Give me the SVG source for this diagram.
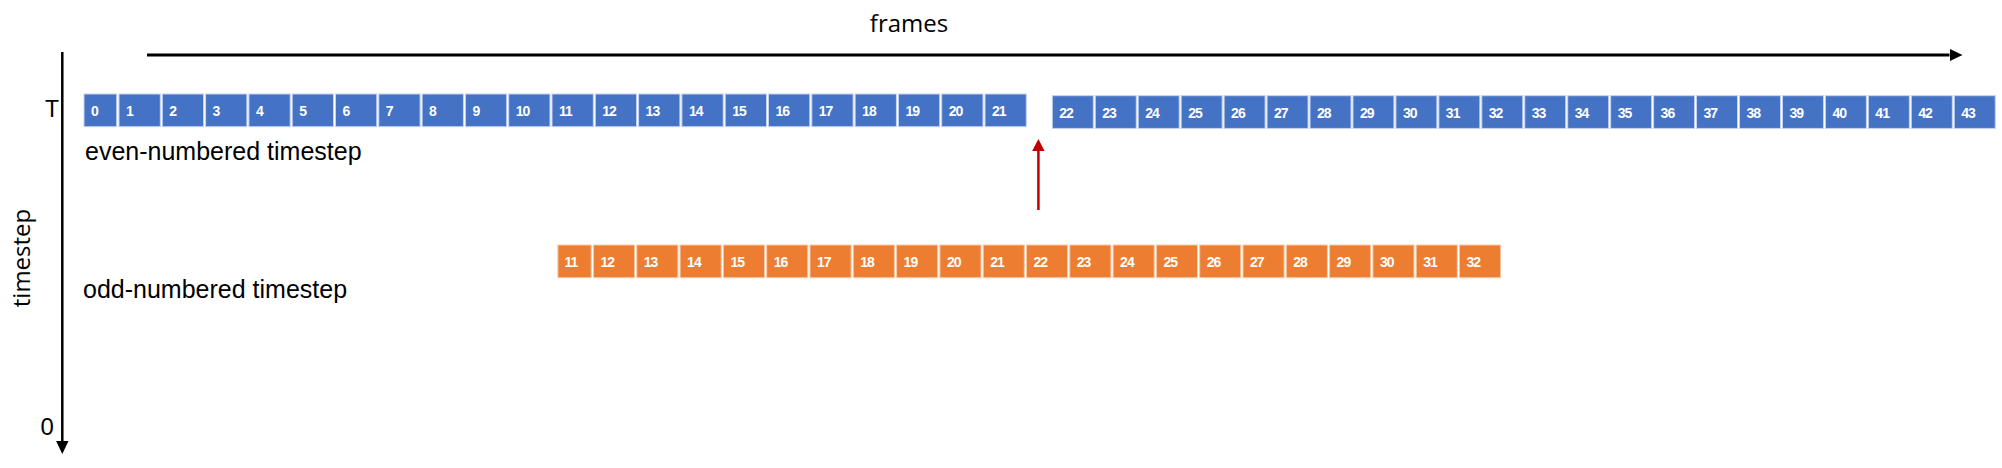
<svg xmlns="http://www.w3.org/2000/svg" width="2002" height="468" viewBox="0 0 2002 468">
<style>
.b rect{fill:#4472C4;stroke:#C5D3EE;stroke-width:1}
.o rect{fill:#ED7D31;stroke:#F6C9A8;stroke-width:1}
.n{font-family:"Liberation Sans",Arial,sans-serif;font-weight:bold;font-size:14px;fill:#fff;letter-spacing:-1px}
.lbl{font-family:"Liberation Sans",Arial,sans-serif;font-size:25px;fill:#000}
.ax{font-family:"Open Sans","Liberation Sans",sans-serif;font-size:24px;fill:#000}
</style>
<defs>
<marker id="ahK" markerUnits="userSpaceOnUse" markerWidth="13" markerHeight="12.4" refX="0" refY="6.2" orient="auto"><path d="M0,0 L13,6.2 L0,12.4 z" fill="#000"/></marker>
<marker id="ahR" markerUnits="userSpaceOnUse" markerWidth="12" markerHeight="12.4" refX="0" refY="6.2" orient="auto"><path d="M0,0 L12,6.2 L0,12.4 z" fill="#C00000"/></marker>
</defs>
<rect width="2002" height="468" fill="#fff"/>
<g id="connectors">
<line x1="147" y1="55" x2="1949.5" y2="55" stroke="#000" stroke-width="3" marker-end="url(#ahK)"/>
<line x1="62.3" y1="52" x2="62.3" y2="441" stroke="#000" stroke-width="2.5" marker-end="url(#ahK)"/>
<line x1="1038.4" y1="210" x2="1038.4" y2="151" stroke="#C00000" stroke-width="2.5" marker-end="url(#ahR)"/>
</g>
<g id="labels">
<text class="ax" x="909" y="31.5" text-anchor="middle">frames</text>
<text class="ax" transform="translate(29.5,258) rotate(-90)" text-anchor="middle">timestep</text>
<text class="lbl" x="45" y="117.3" style="font-size:23px">T</text>
<text class="lbl" x="40.5" y="435" style="font-size:24px">0</text>
<text class="lbl" x="85" y="160">even-numbered timestep</text>
<text class="lbl" x="83" y="298">odd-numbered timestep</text>
</g>
<g id="even-row" class="b">
<g id="e0"><rect x="84" y="94" width="32.7" height="32.7"/><text class="n" x="91" y="116">0</text></g>
<g id="e1"><rect x="119" y="94" width="41.3" height="32.7"/><text class="n" x="126" y="116">1</text></g>
<g id="e2"><rect x="162.3" y="94" width="41.3" height="32.7"/><text class="n" x="169.3" y="116">2</text></g>
<g id="e3"><rect x="205.6" y="94" width="41.3" height="32.7"/><text class="n" x="212.6" y="116">3</text></g>
<g id="e4"><rect x="248.9" y="94" width="41.3" height="32.7"/><text class="n" x="255.9" y="116">4</text></g>
<g id="e5"><rect x="292.2" y="94" width="41.3" height="32.7"/><text class="n" x="299.2" y="116">5</text></g>
<g id="e6"><rect x="335.5" y="94" width="41.3" height="32.7"/><text class="n" x="342.5" y="116">6</text></g>
<g id="e7"><rect x="378.8" y="94" width="41.3" height="32.7"/><text class="n" x="385.8" y="116">7</text></g>
<g id="e8"><rect x="422.1" y="94" width="41.3" height="32.7"/><text class="n" x="429.1" y="116">8</text></g>
<g id="e9"><rect x="465.4" y="94" width="41.3" height="32.7"/><text class="n" x="472.4" y="116">9</text></g>
<g id="e10"><rect x="508.7" y="94" width="41.3" height="32.7"/><text class="n" x="515.7" y="116">10</text></g>
<g id="e11"><rect x="552" y="94" width="41.3" height="32.7"/><text class="n" x="559" y="116">11</text></g>
<g id="e12"><rect x="595.3" y="94" width="41.3" height="32.7"/><text class="n" x="602.3" y="116">12</text></g>
<g id="e13"><rect x="638.6" y="94" width="41.3" height="32.7"/><text class="n" x="645.6" y="116">13</text></g>
<g id="e14"><rect x="681.9" y="94" width="41.3" height="32.7"/><text class="n" x="688.9" y="116">14</text></g>
<g id="e15"><rect x="725.2" y="94" width="41.3" height="32.7"/><text class="n" x="732.2" y="116">15</text></g>
<g id="e16"><rect x="768.5" y="94" width="41.3" height="32.7"/><text class="n" x="775.5" y="116">16</text></g>
<g id="e17"><rect x="811.8" y="94" width="41.3" height="32.7"/><text class="n" x="818.8" y="116">17</text></g>
<g id="e18"><rect x="855.1" y="94" width="41.3" height="32.7"/><text class="n" x="862.1" y="116">18</text></g>
<g id="e19"><rect x="898.4" y="94" width="41.3" height="32.7"/><text class="n" x="905.4" y="116">19</text></g>
<g id="e20"><rect x="941.7" y="94" width="41.3" height="32.7"/><text class="n" x="948.7" y="116">20</text></g>
<g id="e21"><rect x="985" y="94" width="41.3" height="32.7"/><text class="n" x="992" y="116">21</text></g>
<g id="e22"><rect x="1052.3" y="95.7" width="41" height="32.7"/><text class="n" x="1059.3" y="117.7">22</text></g>
<g id="e23"><rect x="1095.25" y="95.7" width="41" height="32.7"/><text class="n" x="1102.25" y="117.7">23</text></g>
<g id="e24"><rect x="1138.2" y="95.7" width="41" height="32.7"/><text class="n" x="1145.2" y="117.7">24</text></g>
<g id="e25"><rect x="1181.15" y="95.7" width="41" height="32.7"/><text class="n" x="1188.15" y="117.7">25</text></g>
<g id="e26"><rect x="1224.1" y="95.7" width="41" height="32.7"/><text class="n" x="1231.1" y="117.7">26</text></g>
<g id="e27"><rect x="1267.05" y="95.7" width="41" height="32.7"/><text class="n" x="1274.05" y="117.7">27</text></g>
<g id="e28"><rect x="1310" y="95.7" width="41" height="32.7"/><text class="n" x="1317" y="117.7">28</text></g>
<g id="e29"><rect x="1352.95" y="95.7" width="41" height="32.7"/><text class="n" x="1359.95" y="117.7">29</text></g>
<g id="e30"><rect x="1395.9" y="95.7" width="41" height="32.7"/><text class="n" x="1402.9" y="117.7">30</text></g>
<g id="e31"><rect x="1438.85" y="95.7" width="41" height="32.7"/><text class="n" x="1445.85" y="117.7">31</text></g>
<g id="e32"><rect x="1481.8" y="95.7" width="41" height="32.7"/><text class="n" x="1488.8" y="117.7">32</text></g>
<g id="e33"><rect x="1524.75" y="95.7" width="41" height="32.7"/><text class="n" x="1531.75" y="117.7">33</text></g>
<g id="e34"><rect x="1567.7" y="95.7" width="41" height="32.7"/><text class="n" x="1574.7" y="117.7">34</text></g>
<g id="e35"><rect x="1610.65" y="95.7" width="41" height="32.7"/><text class="n" x="1617.65" y="117.7">35</text></g>
<g id="e36"><rect x="1653.6" y="95.7" width="41" height="32.7"/><text class="n" x="1660.6" y="117.7">36</text></g>
<g id="e37"><rect x="1696.55" y="95.7" width="41" height="32.7"/><text class="n" x="1703.55" y="117.7">37</text></g>
<g id="e38"><rect x="1739.5" y="95.7" width="41" height="32.7"/><text class="n" x="1746.5" y="117.7">38</text></g>
<g id="e39"><rect x="1782.45" y="95.7" width="41" height="32.7"/><text class="n" x="1789.45" y="117.7">39</text></g>
<g id="e40"><rect x="1825.4" y="95.7" width="41" height="32.7"/><text class="n" x="1832.4" y="117.7">40</text></g>
<g id="e41"><rect x="1868.35" y="95.7" width="41" height="32.7"/><text class="n" x="1875.35" y="117.7">41</text></g>
<g id="e42"><rect x="1911.3" y="95.7" width="41" height="32.7"/><text class="n" x="1918.3" y="117.7">42</text></g>
<g id="e43"><rect x="1954.25" y="95.7" width="41" height="32.7"/><text class="n" x="1961.25" y="117.7">43</text></g>
</g>
<g id="odd-row" class="o">
<g id="o11"><rect x="557.9" y="245" width="33.3" height="32.7"/><text class="n" x="564.5" y="267">11</text></g>
<g id="o12"><rect x="593.5" y="245" width="41.1" height="32.7"/><text class="n" x="600.5" y="267">12</text></g>
<g id="o13"><rect x="636.8" y="245" width="41.1" height="32.7"/><text class="n" x="643.8" y="267">13</text></g>
<g id="o14"><rect x="680.1" y="245" width="41.1" height="32.7"/><text class="n" x="687.1" y="267">14</text></g>
<g id="o15"><rect x="723.4" y="245" width="41.1" height="32.7"/><text class="n" x="730.4" y="267">15</text></g>
<g id="o16"><rect x="766.7" y="245" width="41.1" height="32.7"/><text class="n" x="773.7" y="267">16</text></g>
<g id="o17"><rect x="810" y="245" width="41.1" height="32.7"/><text class="n" x="817" y="267">17</text></g>
<g id="o18"><rect x="853.3" y="245" width="41.1" height="32.7"/><text class="n" x="860.3" y="267">18</text></g>
<g id="o19"><rect x="896.6" y="245" width="41.1" height="32.7"/><text class="n" x="903.6" y="267">19</text></g>
<g id="o20"><rect x="939.9" y="245" width="41.1" height="32.7"/><text class="n" x="946.9" y="267">20</text></g>
<g id="o21"><rect x="983.2" y="245" width="41.1" height="32.7"/><text class="n" x="990.2" y="267">21</text></g>
<g id="o22"><rect x="1026.5" y="245" width="41.1" height="32.7"/><text class="n" x="1033.5" y="267">22</text></g>
<g id="o23"><rect x="1069.8" y="245" width="41.1" height="32.7"/><text class="n" x="1076.8" y="267">23</text></g>
<g id="o24"><rect x="1113.1" y="245" width="41.1" height="32.7"/><text class="n" x="1120.1" y="267">24</text></g>
<g id="o25"><rect x="1156.4" y="245" width="41.1" height="32.7"/><text class="n" x="1163.4" y="267">25</text></g>
<g id="o26"><rect x="1199.7" y="245" width="41.1" height="32.7"/><text class="n" x="1206.7" y="267">26</text></g>
<g id="o27"><rect x="1243" y="245" width="41.1" height="32.7"/><text class="n" x="1250" y="267">27</text></g>
<g id="o28"><rect x="1286.3" y="245" width="41.1" height="32.7"/><text class="n" x="1293.3" y="267">28</text></g>
<g id="o29"><rect x="1329.6" y="245" width="41.1" height="32.7"/><text class="n" x="1336.6" y="267">29</text></g>
<g id="o30"><rect x="1372.9" y="245" width="41.1" height="32.7"/><text class="n" x="1379.9" y="267">30</text></g>
<g id="o31"><rect x="1416.2" y="245" width="41.1" height="32.7"/><text class="n" x="1423.2" y="267">31</text></g>
<g id="o32"><rect x="1459.5" y="245" width="41.1" height="32.7"/><text class="n" x="1466.5" y="267">32</text></g>
</g>
</svg>
